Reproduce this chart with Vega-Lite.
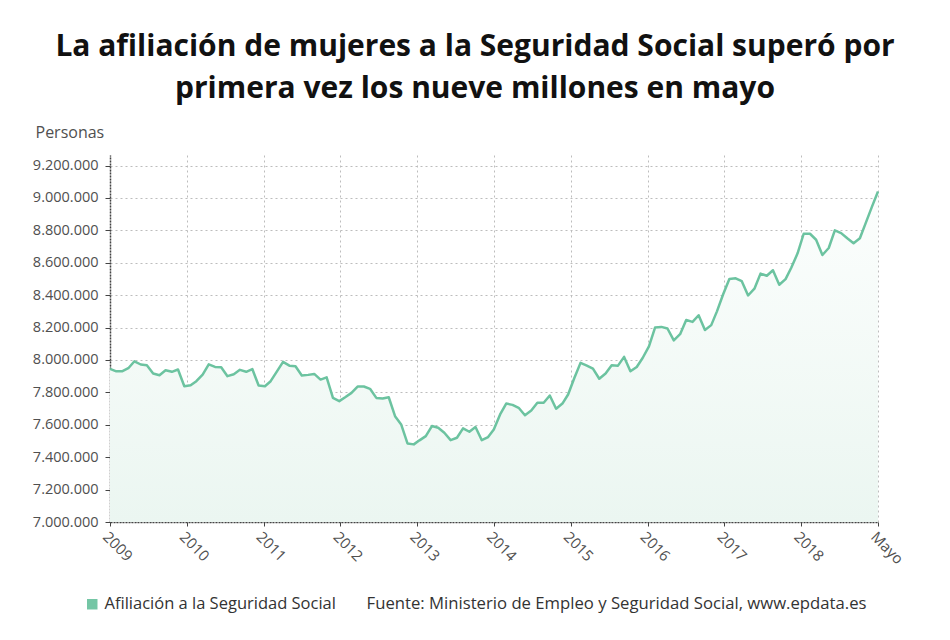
{
  "$schema": "https://vega.github.io/schema/vega-lite/v6.json",
  "width": 768,
  "height": 367,
  "autosize": {"type": "none"},
  "padding": {"left": 110, "top": 155, "right": 72, "bottom": 118},
  "background": "white",
  "title": {
    "text": ["La afiliación de mujeres a la Seguridad Social superó por", "primera vez los nueve millones en mayo"],
    "font": "Open Sans",
    "fontSize": 30,
    "fontWeight": "bold",
    "color": "#111111",
    "anchor": "middle",
    "dx": -19,
    "offset": 20,
    "lineHeight": 42
  },
  "config": {
    "locale": {"number": {"decimal": ",", "thousands": ".", "grouping": [3], "currency": ["", "€"]}},
    "view": {"stroke": null},
    "font": "Open Sans"
  },
  "data": {
    "values": [
      {"fecha": "2009-01-01", "afiliados": 7945000, "serie": "Afiliación a la Seguridad Social"},
      {"fecha": "2009-02-01", "afiliados": 7930000, "serie": "Afiliación a la Seguridad Social"},
      {"fecha": "2009-03-01", "afiliados": 7930000, "serie": "Afiliación a la Seguridad Social"},
      {"fecha": "2009-04-01", "afiliados": 7949000, "serie": "Afiliación a la Seguridad Social"},
      {"fecha": "2009-05-01", "afiliados": 7992000, "serie": "Afiliación a la Seguridad Social"},
      {"fecha": "2009-06-01", "afiliados": 7972000, "serie": "Afiliación a la Seguridad Social"},
      {"fecha": "2009-07-01", "afiliados": 7967000, "serie": "Afiliación a la Seguridad Social"},
      {"fecha": "2009-08-01", "afiliados": 7916000, "serie": "Afiliación a la Seguridad Social"},
      {"fecha": "2009-09-01", "afiliados": 7906000, "serie": "Afiliación a la Seguridad Social"},
      {"fecha": "2009-10-01", "afiliados": 7937000, "serie": "Afiliación a la Seguridad Social"},
      {"fecha": "2009-11-01", "afiliados": 7927000, "serie": "Afiliación a la Seguridad Social"},
      {"fecha": "2009-12-01", "afiliados": 7941000, "serie": "Afiliación a la Seguridad Social"},
      {"fecha": "2010-01-01", "afiliados": 7838000, "serie": "Afiliación a la Seguridad Social"},
      {"fecha": "2010-02-01", "afiliados": 7844000, "serie": "Afiliación a la Seguridad Social"},
      {"fecha": "2010-03-01", "afiliados": 7869000, "serie": "Afiliación a la Seguridad Social"},
      {"fecha": "2010-04-01", "afiliados": 7910000, "serie": "Afiliación a la Seguridad Social"},
      {"fecha": "2010-05-01", "afiliados": 7973000, "serie": "Afiliación a la Seguridad Social"},
      {"fecha": "2010-06-01", "afiliados": 7957000, "serie": "Afiliación a la Seguridad Social"},
      {"fecha": "2010-07-01", "afiliados": 7955000, "serie": "Afiliación a la Seguridad Social"},
      {"fecha": "2010-08-01", "afiliados": 7900000, "serie": "Afiliación a la Seguridad Social"},
      {"fecha": "2010-09-01", "afiliados": 7912000, "serie": "Afiliación a la Seguridad Social"},
      {"fecha": "2010-10-01", "afiliados": 7939000, "serie": "Afiliación a la Seguridad Social"},
      {"fecha": "2010-11-01", "afiliados": 7927000, "serie": "Afiliación a la Seguridad Social"},
      {"fecha": "2010-12-01", "afiliados": 7944000, "serie": "Afiliación a la Seguridad Social"},
      {"fecha": "2011-01-01", "afiliados": 7842000, "serie": "Afiliación a la Seguridad Social"},
      {"fecha": "2011-02-01", "afiliados": 7838000, "serie": "Afiliación a la Seguridad Social"},
      {"fecha": "2011-03-01", "afiliados": 7869000, "serie": "Afiliación a la Seguridad Social"},
      {"fecha": "2011-04-01", "afiliados": 7930000, "serie": "Afiliación a la Seguridad Social"},
      {"fecha": "2011-05-01", "afiliados": 7988000, "serie": "Afiliación a la Seguridad Social"},
      {"fecha": "2011-06-01", "afiliados": 7965000, "serie": "Afiliación a la Seguridad Social"},
      {"fecha": "2011-07-01", "afiliados": 7961000, "serie": "Afiliación a la Seguridad Social"},
      {"fecha": "2011-08-01", "afiliados": 7904000, "serie": "Afiliación a la Seguridad Social"},
      {"fecha": "2011-09-01", "afiliados": 7908000, "serie": "Afiliación a la Seguridad Social"},
      {"fecha": "2011-10-01", "afiliados": 7914000, "serie": "Afiliación a la Seguridad Social"},
      {"fecha": "2011-11-01", "afiliados": 7879000, "serie": "Afiliación a la Seguridad Social"},
      {"fecha": "2011-12-01", "afiliados": 7893000, "serie": "Afiliación a la Seguridad Social"},
      {"fecha": "2012-01-01", "afiliados": 7766000, "serie": "Afiliación a la Seguridad Social"},
      {"fecha": "2012-02-01", "afiliados": 7746000, "serie": "Afiliación a la Seguridad Social"},
      {"fecha": "2012-03-01", "afiliados": 7770000, "serie": "Afiliación a la Seguridad Social"},
      {"fecha": "2012-04-01", "afiliados": 7797000, "serie": "Afiliación a la Seguridad Social"},
      {"fecha": "2012-05-01", "afiliados": 7836000, "serie": "Afiliación a la Seguridad Social"},
      {"fecha": "2012-06-01", "afiliados": 7836000, "serie": "Afiliación a la Seguridad Social"},
      {"fecha": "2012-07-01", "afiliados": 7822000, "serie": "Afiliación a la Seguridad Social"},
      {"fecha": "2012-08-01", "afiliados": 7766000, "serie": "Afiliación a la Seguridad Social"},
      {"fecha": "2012-09-01", "afiliados": 7762000, "serie": "Afiliación a la Seguridad Social"},
      {"fecha": "2012-10-01", "afiliados": 7770000, "serie": "Afiliación a la Seguridad Social"},
      {"fecha": "2012-11-01", "afiliados": 7653000, "serie": "Afiliación a la Seguridad Social"},
      {"fecha": "2012-12-01", "afiliados": 7602000, "serie": "Afiliación a la Seguridad Social"},
      {"fecha": "2013-01-01", "afiliados": 7485000, "serie": "Afiliación a la Seguridad Social"},
      {"fecha": "2013-02-01", "afiliados": 7479000, "serie": "Afiliación a la Seguridad Social"},
      {"fecha": "2013-03-01", "afiliados": 7504000, "serie": "Afiliación a la Seguridad Social"},
      {"fecha": "2013-04-01", "afiliados": 7530000, "serie": "Afiliación a la Seguridad Social"},
      {"fecha": "2013-05-01", "afiliados": 7592000, "serie": "Afiliación a la Seguridad Social"},
      {"fecha": "2013-06-01", "afiliados": 7582000, "serie": "Afiliación a la Seguridad Social"},
      {"fecha": "2013-07-01", "afiliados": 7551000, "serie": "Afiliación a la Seguridad Social"},
      {"fecha": "2013-08-01", "afiliados": 7505000, "serie": "Afiliación a la Seguridad Social"},
      {"fecha": "2013-09-01", "afiliados": 7520000, "serie": "Afiliación a la Seguridad Social"},
      {"fecha": "2013-10-01", "afiliados": 7578000, "serie": "Afiliación a la Seguridad Social"},
      {"fecha": "2013-11-01", "afiliados": 7557000, "serie": "Afiliación a la Seguridad Social"},
      {"fecha": "2013-12-01", "afiliados": 7586000, "serie": "Afiliación a la Seguridad Social"},
      {"fecha": "2014-01-01", "afiliados": 7505000, "serie": "Afiliación a la Seguridad Social"},
      {"fecha": "2014-02-01", "afiliados": 7524000, "serie": "Afiliación a la Seguridad Social"},
      {"fecha": "2014-03-01", "afiliados": 7571000, "serie": "Afiliación a la Seguridad Social"},
      {"fecha": "2014-04-01", "afiliados": 7664000, "serie": "Afiliación a la Seguridad Social"},
      {"fecha": "2014-05-01", "afiliados": 7731000, "serie": "Afiliación a la Seguridad Social"},
      {"fecha": "2014-06-01", "afiliados": 7723000, "serie": "Afiliación a la Seguridad Social"},
      {"fecha": "2014-07-01", "afiliados": 7705000, "serie": "Afiliación a la Seguridad Social"},
      {"fecha": "2014-08-01", "afiliados": 7659000, "serie": "Afiliación a la Seguridad Social"},
      {"fecha": "2014-09-01", "afiliados": 7688000, "serie": "Afiliación a la Seguridad Social"},
      {"fecha": "2014-10-01", "afiliados": 7736000, "serie": "Afiliación a la Seguridad Social"},
      {"fecha": "2014-11-01", "afiliados": 7736000, "serie": "Afiliación a la Seguridad Social"},
      {"fecha": "2014-12-01", "afiliados": 7781000, "serie": "Afiliación a la Seguridad Social"},
      {"fecha": "2015-01-01", "afiliados": 7699000, "serie": "Afiliación a la Seguridad Social"},
      {"fecha": "2015-02-01", "afiliados": 7731000, "serie": "Afiliación a la Seguridad Social"},
      {"fecha": "2015-03-01", "afiliados": 7787000, "serie": "Afiliación a la Seguridad Social"},
      {"fecha": "2015-04-01", "afiliados": 7890000, "serie": "Afiliación a la Seguridad Social"},
      {"fecha": "2015-05-01", "afiliados": 7982000, "serie": "Afiliación a la Seguridad Social"},
      {"fecha": "2015-06-01", "afiliados": 7965000, "serie": "Afiliación a la Seguridad Social"},
      {"fecha": "2015-07-01", "afiliados": 7947000, "serie": "Afiliación a la Seguridad Social"},
      {"fecha": "2015-08-01", "afiliados": 7884000, "serie": "Afiliación a la Seguridad Social"},
      {"fecha": "2015-09-01", "afiliados": 7916000, "serie": "Afiliación a la Seguridad Social"},
      {"fecha": "2015-10-01", "afiliados": 7967000, "serie": "Afiliación a la Seguridad Social"},
      {"fecha": "2015-11-01", "afiliados": 7965000, "serie": "Afiliación a la Seguridad Social"},
      {"fecha": "2015-12-01", "afiliados": 8019000, "serie": "Afiliación a la Seguridad Social"},
      {"fecha": "2016-01-01", "afiliados": 7930000, "serie": "Afiliación a la Seguridad Social"},
      {"fecha": "2016-02-01", "afiliados": 7957000, "serie": "Afiliación a la Seguridad Social"},
      {"fecha": "2016-03-01", "afiliados": 8012000, "serie": "Afiliación a la Seguridad Social"},
      {"fecha": "2016-04-01", "afiliados": 8084000, "serie": "Afiliación a la Seguridad Social"},
      {"fecha": "2016-05-01", "afiliados": 8200000, "serie": "Afiliación a la Seguridad Social"},
      {"fecha": "2016-06-01", "afiliados": 8204000, "serie": "Afiliación a la Seguridad Social"},
      {"fecha": "2016-07-01", "afiliados": 8194000, "serie": "Afiliación a la Seguridad Social"},
      {"fecha": "2016-08-01", "afiliados": 8121000, "serie": "Afiliación a la Seguridad Social"},
      {"fecha": "2016-09-01", "afiliados": 8159000, "serie": "Afiliación a la Seguridad Social"},
      {"fecha": "2016-10-01", "afiliados": 8247000, "serie": "Afiliación a la Seguridad Social"},
      {"fecha": "2016-11-01", "afiliados": 8235000, "serie": "Afiliación a la Seguridad Social"},
      {"fecha": "2016-12-01", "afiliados": 8276000, "serie": "Afiliación a la Seguridad Social"},
      {"fecha": "2017-01-01", "afiliados": 8185000, "serie": "Afiliación a la Seguridad Social"},
      {"fecha": "2017-02-01", "afiliados": 8215000, "serie": "Afiliación a la Seguridad Social"},
      {"fecha": "2017-03-01", "afiliados": 8300000, "serie": "Afiliación a la Seguridad Social"},
      {"fecha": "2017-04-01", "afiliados": 8407000, "serie": "Afiliación a la Seguridad Social"},
      {"fecha": "2017-05-01", "afiliados": 8500000, "serie": "Afiliación a la Seguridad Social"},
      {"fecha": "2017-06-01", "afiliados": 8504000, "serie": "Afiliación a la Seguridad Social"},
      {"fecha": "2017-07-01", "afiliados": 8486000, "serie": "Afiliación a la Seguridad Social"},
      {"fecha": "2017-08-01", "afiliados": 8398000, "serie": "Afiliación a la Seguridad Social"},
      {"fecha": "2017-09-01", "afiliados": 8440000, "serie": "Afiliación a la Seguridad Social"},
      {"fecha": "2017-10-01", "afiliados": 8533000, "serie": "Afiliación a la Seguridad Social"},
      {"fecha": "2017-11-01", "afiliados": 8520000, "serie": "Afiliación a la Seguridad Social"},
      {"fecha": "2017-12-01", "afiliados": 8554000, "serie": "Afiliación a la Seguridad Social"},
      {"fecha": "2018-01-01", "afiliados": 8464000, "serie": "Afiliación a la Seguridad Social"},
      {"fecha": "2018-02-01", "afiliados": 8499000, "serie": "Afiliación a la Seguridad Social"},
      {"fecha": "2018-03-01", "afiliados": 8569000, "serie": "Afiliación a la Seguridad Social"},
      {"fecha": "2018-04-01", "afiliados": 8658000, "serie": "Afiliación a la Seguridad Social"},
      {"fecha": "2018-05-01", "afiliados": 8779000, "serie": "Afiliación a la Seguridad Social"},
      {"fecha": "2018-06-01", "afiliados": 8779000, "serie": "Afiliación a la Seguridad Social"},
      {"fecha": "2018-07-01", "afiliados": 8742000, "serie": "Afiliación a la Seguridad Social"},
      {"fecha": "2018-08-01", "afiliados": 8648000, "serie": "Afiliación a la Seguridad Social"},
      {"fecha": "2018-09-01", "afiliados": 8691000, "serie": "Afiliación a la Seguridad Social"},
      {"fecha": "2018-10-01", "afiliados": 8800000, "serie": "Afiliación a la Seguridad Social"},
      {"fecha": "2018-11-01", "afiliados": 8783000, "serie": "Afiliación a la Seguridad Social"},
      {"fecha": "2018-12-01", "afiliados": 8751000, "serie": "Afiliación a la Seguridad Social"},
      {"fecha": "2019-01-01", "afiliados": 8720000, "serie": "Afiliación a la Seguridad Social"},
      {"fecha": "2019-02-01", "afiliados": 8751000, "serie": "Afiliación a la Seguridad Social"},
      {"fecha": "2019-03-01", "afiliados": 8843000, "serie": "Afiliación a la Seguridad Social"},
      {"fecha": "2019-04-01", "afiliados": 8945000, "serie": "Afiliación a la Seguridad Social"},
      {"fecha": "2019-05-01", "afiliados": 9040000, "serie": "Afiliación a la Seguridad Social"}
    ]
  },
  "encoding": {
    "x": {
      "field": "fecha",
      "type": "temporal",
      "scale": {"type": "utc", "domain": [1230768000000, 1556668800000]},
      "axis": {
        "values": [1230768000000, 1263358080000, 1295948160000, 1328538240000, 1361128320000, 1393718400000, 1426308480000, 1458898560000, 1491488640000, 1524078720000, 1556668800000],
        "labelExpr": "datum.value >= 1556668000000 ? 'Mayo' : utcFormat(datum.value, '%Y')",
        "labelAngle": 45,
        "labelAlign": "left",
        "labelBaseline": "top",
        "labelFont": "Open Sans",
        "labelFontSize": 15,
        "labelColor": "#505050",
        "labelPadding": 3,
        "labelOverlap": false,
        "labelFlush": false,
        "grid": true,
        "gridDash": [2, 3],
        "gridColor": "#bdbdbd",
        "gridWidth": 1,
        "domainColor": "#444444",
        "domainDash": [2, 1],
        "domainWidth": 1.5,
        "tickColor": "#444444",
        "tickSize": 4,
        "title": "Fuente: Ministerio de Empleo y Seguridad Social, www.epdata.es",
        "titleFont": "Open Sans",
        "titleX": 506,
        "titleY": 81,
        "titleAlign": "center",
        "titleBaseline": "middle",
        "titleFontSize": 16.7,
        "titleFontWeight": "normal",
        "titleColor": "#333333",
        "titleLimit": 700
      }
    },
    "y": {
      "field": "afiliados",
      "type": "quantitative",
      "scale": {"domain": [7000000, 9265000], "nice": false, "zero": false},
      "axis": {
        "values": [7000000, 7200000, 7400000, 7600000, 7800000, 8000000, 8200000, 8400000, 8600000, 8800000, 9000000, 9200000],
        "format": ",d",
        "labelFont": "Open Sans",
        "labelFontSize": 14.5,
        "labelColor": "#505050",
        "labelPadding": 7,
        "grid": true,
        "gridDash": [2, 3],
        "gridColor": "#bdbdbd",
        "gridWidth": 1,
        "domainColor": "#444444",
        "domainDash": [2, 1],
        "domainWidth": 1.5,
        "tickColor": "#444444",
        "tickSize": 5,
        "title": "Personas",
        "titleFont": "Open Sans",
        "titleAngle": 0,
        "titleAlign": "left",
        "titleBaseline": "middle",
        "titleX": -75,
        "titleY": -23,
        "titleFontSize": 16,
        "titleFontWeight": "normal",
        "titleColor": "#505050"
      }
    }
  },
  "layer": [
    {
      "mark": {
        "type": "area",
        "color": {
          "gradient": "linear",
          "x1": 0, "y1": 0, "x2": 0, "y2": 1,
          "stops": [
            {"offset": 0, "color": "#fcfefd"},
            {"offset": 1, "color": "#ebf6f1"}
          ]
        }
      },
      "encoding": {
        "y2": {"datum": 7000000}
      }
    },
    {
      "mark": {"type": "line", "strokeWidth": 2.5, "strokeJoin": "round"},
      "encoding": {
        "color": {
          "field": "serie",
          "type": "nominal",
          "scale": {"range": ["#6cc3a0"]},
          "legend": {
            "orient": "none",
            "legendX": -26,
            "legendY": 441,
            "direction": "horizontal",
            "title": null,
            "symbolType": "square",
            "symbolSize": 110,
            "labelFont": "Open Sans",
            "labelFontSize": 16.5,
            "labelColor": "#333333",
            "labelOffset": 4,
            "labelLimit": 0,
            "encode": {
              "symbols": {
                "update": {
                  "fill": {"value": "#74c6a5"},
                  "stroke": {"value": "transparent"},
                  "strokeWidth": {"value": 0}
                }
              }
            }
          }
        }
      }
    }
  ]
}
